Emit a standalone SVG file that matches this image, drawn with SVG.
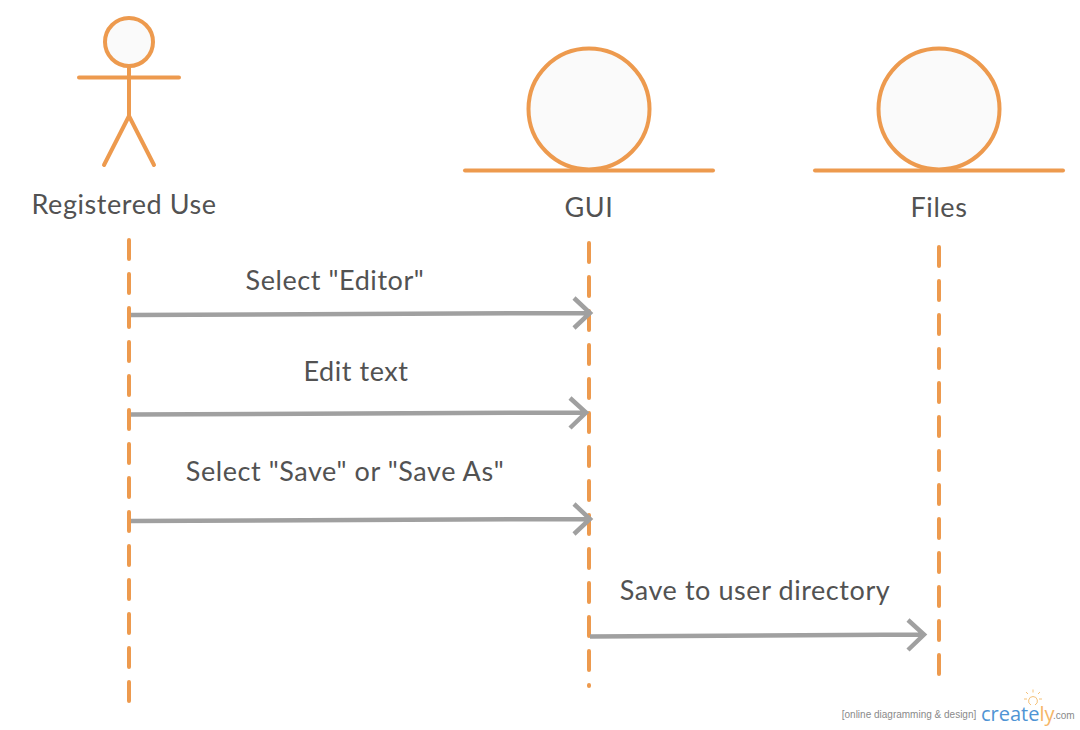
<svg xmlns="http://www.w3.org/2000/svg" width="1080" height="730" viewBox="0 0 1080 730">
<style>
.o{fill:none;stroke:#ed9a4e;stroke-width:4;stroke-linecap:round;stroke-linejoin:round}
.c{fill:#fafafa;stroke:#ed9a4e;stroke-width:4}
.l{fill:none;stroke:#ed9a4e;stroke-width:4;stroke-linecap:round;stroke-dasharray:19 15}
.m{fill:none;stroke:#a0a0a0;stroke-width:4.500;stroke-linejoin:miter}
text{font-family:Lato,"Liberation Sans",sans-serif;fill:#525252;font-size:27px;letter-spacing:.57px;text-anchor:middle}
</style>
<rect width="1080" height="730" fill="#ffffff"/>
<g id="actor-user">
<circle class="c" cx="129" cy="42" r="24"/>
<path class="o" d="M129 66V116M79 77.500H179M129 116L104 165M129 116L154 165"/>
<text x="124" y="214">Registered Use</text>
</g>
<g id="boundary-gui">
<circle class="c" cx="589" cy="109" r="60.500"/>
<path class="o" d="M465 170.500H713"/>
<text x="589" y="217">GUI</text>
</g>
<g id="boundary-files">
<circle class="c" cx="939" cy="109" r="60.500"/>
<path class="o" d="M815 170.500H1063"/>
<text x="939" y="217">Files</text>
</g>
<g id="lifelines">
<path class="l" d="M129 240V702"/>
<path class="l" d="M589 243V686"/>
<path class="l" d="M939 247V676"/>
</g>
<g id="connectors">
<path class="m" d="M131 315L590 313M574 298L590 313L574 328"/>
<path class="m" d="M131 414.500L586 412.500M570 398L586 412.500L570 428"/>
<path class="m" d="M131 521L590 519M574 504L590 519L574 534"/>
<path class="m" d="M590 636.500L924 634.500M908 620L924 634.500L908 650"/>
</g>
<g id="labels">
<text x="335" y="290">Select "Editor"</text>
<text x="356" y="381">Edit text</text>
<text x="345" y="481">Select "Save" or "Save As"</text>
<text x="755" y="600">Save to user directory</text>
</g>
<g id="watermark">
<text x="909" y="718" style="font-family:'Liberation Sans',sans-serif;font-size:10px;letter-spacing:0;fill:#8a8a8a">[online diagramming &amp; design]</text>
<text x="981" y="721" style="font-family:'Open Sans',sans-serif;font-size:20px;letter-spacing:0;fill:#4f94d4;text-anchor:start">create<tspan fill="#f5b567">ly</tspan></text>
<text x="1053" y="719" style="font-family:'Liberation Sans',sans-serif;font-size:10px;letter-spacing:0;fill:#8a8a8a;text-anchor:start">.com</text>
<path d="M1033 696.500a4.500 4.500 0 0 1 2 8.500M1033 696.500a4.500 4.500 0 0 0 -2 8.500M1033 689.500v3M1026 692l2 2M1040 692l-2 2M1024 699h3M1039 699h3" fill="none" stroke="#f5c27a" stroke-width="1"/>
</g>
</svg>
